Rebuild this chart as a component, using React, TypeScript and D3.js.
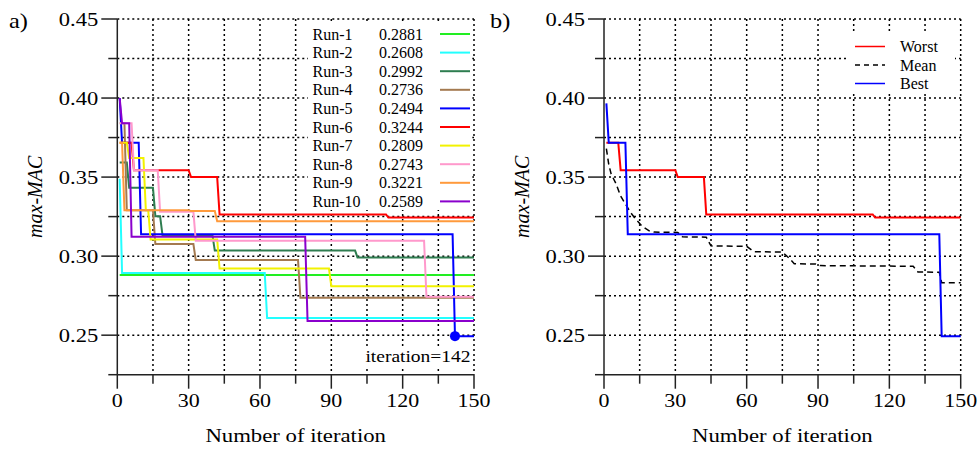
import React from "react";
import * as d3 from "d3";

// ---------- data ----------
const iterTicks = [0, 30, 60, 90, 120, 150];
const iterMinorTicks = [15, 45, 75, 105, 135];
const macTicks = [0.25, 0.3, 0.35, 0.4, 0.45];
const macTickLabels = ["0.25", "0.30", "0.35", "0.40", "0.45"];
const macMinorTicks = [0.225, 0.275, 0.325, 0.375, 0.425];
const gridIter = [15, 30, 45, 60, 75, 90, 105, 120, 135, 150];
const gridMac = [0.25, 0.275, 0.3, 0.325, 0.35, 0.375, 0.4, 0.425, 0.45];

const runNames = ["Run-1", "Run-2", "Run-3", "Run-4", "Run-5", "Run-6", "Run-7", "Run-8", "Run-9", "Run-10"];
const runFinals = ["0.2881", "0.2608", "0.2992", "0.2736", "0.2494", "0.3244", "0.2809", "0.2743", "0.3221", "0.2589"];
const runColors = ["#22ee22", "#22ffff", "#2e7d50", "#a47a50", "#0000ff", "#ff0000", "#f2f200", "#ff99cc", "#ff9a3c", "#8a00cc"];

// iteration at which a new value starts, and that value
const run1Iter = [1];
const run1Val = [0.2881];
const run2Iter = [1, 2, 63];
const run2Val = [0.349, 0.2894, 0.2608];
const run3Iter = [1, 5, 16, 19, 41, 101];
const run3Val = [0.3593, 0.3432, 0.3253, 0.3133, 0.3035, 0.2992];
const run4Iter = [1, 4, 16, 33, 77];
const run4Val = [0.384, 0.329, 0.3076, 0.2975, 0.2736];
const run5Iter = [1, 2, 10, 142];
const run5Val = [0.4, 0.3717, 0.3139, 0.2494];
const run6Iter = [1, 7, 31, 43, 114];
const run6Val = [0.3717, 0.3544, 0.35, 0.3264, 0.3244];
const run7Iter = [1, 5, 12, 14, 43, 90];
const run7Val = [0.3717, 0.362, 0.329, 0.3105, 0.2922, 0.2809];
const run8Iter = [1, 7, 18, 33, 130];
const run8Val = [0.384, 0.3544, 0.328, 0.3097, 0.2743];
const run9Iter = [1, 3, 31, 42];
const run9Val = [0.3717, 0.3291, 0.3285, 0.3221];
const run10Iter = [1, 2, 6, 80];
const run10Val = [0.4, 0.384, 0.3122, 0.2589];

const runIters = [run1Iter, run2Iter, run3Iter, run4Iter, run5Iter, run6Iter, run7Iter, run8Iter, run9Iter, run10Iter];
const runVals = [run1Val, run2Val, run3Val, run4Val, run5Val, run6Val, run7Val, run8Val, run9Val, run10Val];

const worstIter = [1, 7, 31, 43, 114];
const worstVal = [0.3717, 0.3544, 0.35, 0.3264, 0.3244];
const bestIter = [1, 2, 10, 142];
const bestVal = [0.3966, 0.3717, 0.3139, 0.2494];
const meanIter = [1, 2, 3, 5, 7, 9, 11, 13, 16, 19, 21, 31, 33, 43, 45, 60, 63, 75, 78, 80, 89, 91, 130, 132, 141, 142, 150];
const meanVal = [0.368, 0.358, 0.352, 0.346, 0.338, 0.333, 0.328, 0.324, 0.319, 0.316, 0.3152, 0.315, 0.3122, 0.312, 0.3065, 0.3062, 0.3028, 0.3026, 0.2985, 0.2952, 0.295, 0.294, 0.2936, 0.29, 0.2898, 0.2832, 0.2832];

const legendBNames = ["Worst", "Mean", "Best"];
const bestPointIter = 142;
const bestPointVal = 0.2494;

// ---------- layout ----------
const W = 980;
const H = 451;
const yTop = 19;
const yBot = 374.7;
const FONT = "'Liberation Serif', 'Times New Roman', serif";
const SX = 1.22;

const yScale = d3.scaleLinear().domain([0.225, 0.45]).range([yBot, yTop]);

function stepPoints(iters: number[], vals: number[], end = 150): [number, number][] {
  const pts: [number, number][] = [[iters[0], vals[0]]];
  for (let k = 1; k < iters.length; k++) {
    pts.push([iters[k] - 1, vals[k - 1]]);
    pts.push([iters[k], vals[k]]);
  }
  pts.push([end, vals[vals.length - 1]]);
  return pts;
}

function STxt(props: { x: number; y: number; size: number; anchor?: string; children: React.ReactNode; italic?: boolean; sx?: number }) {
  const { x, y, size, anchor = "start", children, italic, sx = SX } = props;
  return (
    <text
      transform={`translate(${x},${y}) scale(${sx},1)`}
      fontFamily={FONT}
      fontSize={size}
      fontStyle={italic ? "italic" : "normal"}
      textAnchor={anchor}
      fill="#000"
    >
      {children}
    </text>
  );
}

function Frame({ x0, x1, label, labelX }: { x0: number; x1: number; label: string; labelX: number }) {
  const xs = d3.scaleLinear().domain([0, 150]).range([x0, x1]);
  return (
    <g>
      {gridIter.map((t) => (
        <line key={"gv" + t} x1={xs(t)} x2={xs(t)} y1={yTop} y2={yBot} stroke="#000" strokeWidth={1.5} strokeDasharray="2,3" />
      ))}
      {gridMac.map((t) => (
        <line key={"gh" + t} x1={x0} x2={x1} y1={yScale(t)} y2={yScale(t)} stroke="#000" strokeWidth={1.5} strokeDasharray="2,3" />
      ))}
      <STxt x={labelX} y={28} size={20}>{label}</STxt>
    </g>
  );
}

function Axes({ x0, x1, titleX }: { x0: number; x1: number; titleX: number }) {
  const xs = d3.scaleLinear().domain([0, 150]).range([x0, x1]);
  return (
    <g>
      <line x1={x0} x2={x1} y1={yBot} y2={yBot} stroke="#222" strokeWidth={1.5} />
      <line x1={x0} x2={x0} y1={yTop} y2={yBot} stroke="#222" strokeWidth={1.5} />
      {iterTicks.map((t, i) => (
        <g key={"xt" + t}>
          <line x1={xs(t)} x2={xs(t)} y1={yBot} y2={yBot + 14} stroke="#222" strokeWidth={1.5} />
          <STxt x={xs(t)} y={407} size={18} anchor="middle">{String(iterTicks[i])}</STxt>
        </g>
      ))}
      {iterMinorTicks.map((t) => (
        <line key={"xm" + t} x1={xs(t)} x2={xs(t)} y1={yBot} y2={yBot + 9} stroke="#222" strokeWidth={1.5} />
      ))}
      {macTicks.map((t, i) => (
        <g key={"yt" + t}>
          <line x1={x0 - 16} x2={x0} y1={yScale(t)} y2={yScale(t)} stroke="#222" strokeWidth={1.5} />
          <STxt x={x0 - 19} y={yScale(t) + 6.5} size={18.5} anchor="end">{macTickLabels[i]}</STxt>
        </g>
      ))}
      {macMinorTicks.map((t) => (
        <line key={"ym" + t} x1={x0 - 9} x2={x0} y1={yScale(t)} y2={yScale(t)} stroke="#222" strokeWidth={1.5} />
      ))}
      <STxt x={(x0 + x1) / 2} y={441.5} size={18.5} anchor="middle" sx={1.23}>Number of iteration</STxt>
      <text
        transform={`translate(${titleX},${(yTop + yBot) / 2}) rotate(-90)`}
        fontFamily={FONT}
        fontSize={20}
        fontStyle="italic"
        textAnchor="middle"
      >
        max-MAC
      </text>
    </g>
  );
}

export default function App() {
  const xA = d3.scaleLinear().domain([0, 150]).range([117.3, 474]);
  const xB = d3.scaleLinear().domain([0, 150]).range([604, 960.7]);
  const lineA = d3.line<[number, number]>().x((d) => xA(d[0])).y((d) => yScale(d[1]));
  const lineB = d3.line<[number, number]>().x((d) => xB(d[0])).y((d) => yScale(d[1]));
  const meanPts: [number, number][] = meanIter.map((it, i) => [it, meanVal[i]]);

  const legY0 = 34;
  const legDy = 18.6;
  const legBY = [46.5, 65, 83.5];

  return (
    <svg width={W} height={H} style={{ position: "absolute", left: 0, top: 0, background: "#fff" }}>
      <rect x={0} y={0} width={W} height={H} fill="#fff" />
      {/* ---- panel a ---- */}
      <Frame x0={117.3} x1={474} label="a)" labelX={9} />
      {runIters.map((its, i) => (
        <path key={"run" + i} d={lineA(stepPoints(its, runVals[i])) || ""} fill="none" stroke={runColors[i]} strokeWidth={2} />
      ))}
      <circle cx={xA(bestPointIter)} cy={yScale(bestPointVal)} r={5} fill="#0000ff" />
      <rect x={308} y={24} width={164} height={186} fill="#fff" />
      {runNames.map((n, i) => (
        <g key={"leg" + i}>
          <text x={312.5} y={legY0 + i * legDy + 5.5} fontFamily={FONT} fontSize={16}>{n}</text>
          <text x={379} y={legY0 + i * legDy + 5.5} fontFamily={FONT} fontSize={16}>{runFinals[i]}</text>
          <line x1={440} x2={470} y1={legY0 + i * legDy} y2={legY0 + i * legDy} stroke={runColors[i]} strokeWidth={2} />
        </g>
      ))}
      <rect x={364} y={347} width={108} height={19} fill="#fff" />
      <STxt x={418} y={362} size={16} anchor="middle">iteration=142</STxt>
      <Axes x0={117.3} x1={474} titleX={42} />

      {/* ---- panel b ---- */}
      <Frame x0={604} x1={960.7} label="b)" labelX={490} />
      <path d={lineB(stepPoints(worstIter, worstVal)) || ""} fill="none" stroke="#ff0000" strokeWidth={2} />
      <path d={lineB(meanPts) || ""} fill="none" stroke="#000" strokeWidth={1.5} strokeDasharray="6,4" />
      <path d={lineB(stepPoints(bestIter, bestVal)) || ""} fill="none" stroke="#0000ff" strokeWidth={2} />
      <rect x={847} y={34} width={108} height={60} fill="#fff" />
      {legendBNames.map((n, i) => (
        <g key={"lb" + i}>
          <line
            x1={855}
            x2={885}
            y1={legBY[i]}
            y2={legBY[i]}
            stroke={i === 0 ? "#ff0000" : i === 1 ? "#000" : "#0000ff"}
            strokeWidth={i === 1 ? 1.3 : 1.5}
            strokeDasharray={i === 1 ? "5,4" : undefined}
          />
          <text x={900} y={legBY[i] + 5.5} fontFamily={FONT} fontSize={16}>{n}</text>
        </g>
      ))}
      <Axes x0={604} x1={960.7} titleX={529} />
    </svg>
  );
}
